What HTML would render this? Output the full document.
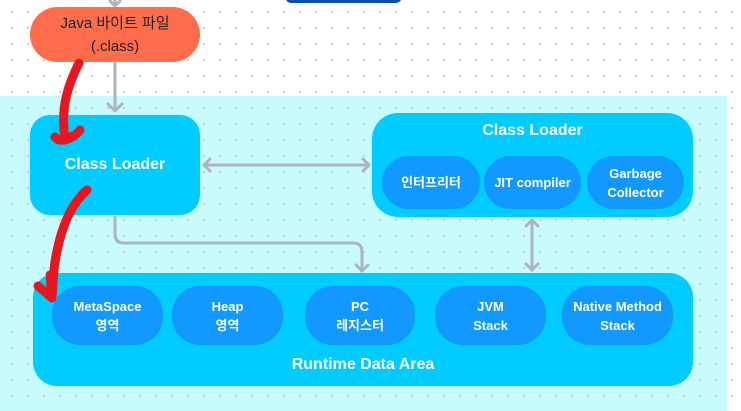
<!DOCTYPE html>
<html><head><meta charset="utf-8"><style>
body{margin:0;width:741px;height:411px;overflow:hidden;background:#fff;font-family:"Liberation Sans","Noto Sans CJK KR",sans-serif;position:relative}
.bg{position:absolute;left:0;top:96px;width:727px;height:315px;background:#c8fbfd}
.dots{position:absolute;left:0;top:0;width:741px;height:411px;background-image:radial-gradient(circle,#c9ccd2 1px,transparent 1.3px);background-size:16px 16px;background-position:4px 4px}
.b{position:absolute;display:flex;align-items:center;justify-content:center;text-align:center;color:#fff;font-weight:bold}
.c{background:#00ccff}
.i{background:#1199ff;border-radius:28px;font-size:13px;line-height:19px}
</style></head><body>
<div class="bg"></div><div class="dots"></div>
<div style="position:absolute;left:285px;top:-10px;width:117px;height:13px;background:#0a4fb0;border-radius:7px"></div>
<div class="b" style="left:30px;top:7px;width:170px;height:55px;border-radius:28px;background:#ff6d4d;color:#222;font-weight:normal;font-size:15px;line-height:23px">Java 바이트 파일<br>(.class)</div>
<div class="b c" style="left:30px;top:115px;width:170px;height:100px;border-radius:20px;font-size:16px">Class Loader</div>
<div class="b c" style="left:372px;top:113px;width:321px;height:104px;border-radius:26px;align-items:flex-start;padding-top:9px;box-sizing:border-box;font-size:16px">Class Loader</div>
<div class="b i" style="left:382px;top:156px;width:98px;height:53px">인터프리터</div>
<div class="b i" style="left:484px;top:156px;width:97px;height:53px">JIT compiler</div>
<div class="b i" style="left:587px;top:156px;width:97px;height:53px">Garbage<br>Collector</div>
<div class="b c" style="left:33px;top:273px;width:660px;height:113px;border-radius:24px;align-items:flex-end;padding-bottom:12px;box-sizing:border-box;font-size:16px">Runtime Data Area</div>
<div class="b i" style="left:52px;top:286px;width:111px;height:59px">MetaSpace<br>영역</div>
<div class="b i" style="left:172px;top:286px;width:111px;height:59px">Heap<br>영역</div>
<div class="b i" style="left:305px;top:286px;width:110px;height:59px">PC<br>레지스터</div>
<div class="b i" style="left:435px;top:286px;width:111px;height:59px">JVM<br>Stack</div>
<div class="b i" style="left:562px;top:286px;width:111px;height:59px">Native Method<br>Stack</div>
<svg width="741" height="411" style="position:absolute;left:0;top:0" fill="none">
<g stroke="#aeb4bb" stroke-width="3" stroke-linecap="round" stroke-linejoin="round">
<path d="M115 0V5M110 1l5 5 5-5"/>
<path d="M115 63V111M108 104l7 7 7-7"/>
<path d="M204 165H369M210 159l-6 6 6 6M363 159l6 6-6 6"/>
<path d="M532 220V270M526 226l6-6 6 6M526 264l6 6 6-6"/>
<path d="M115 217V234Q115 243 124 243H353Q362 243 362 252V271M356 265l6 6 6-6"/>
</g>
<g stroke="#e8161f" stroke-width="9" stroke-linecap="round" stroke-linejoin="round">
<path d="M79 63C68 85 62 105 64 128C63 140 70 142 80 130"/>
<path d="M55 137C58 141 66 142 72 136"/>
<path d="M87 190C70 205 60 230 55 262C53 275 53 285 52 297"/>
<path d="M38 286L52 298L50 275"/>
</g>
</svg>
</body></html>
